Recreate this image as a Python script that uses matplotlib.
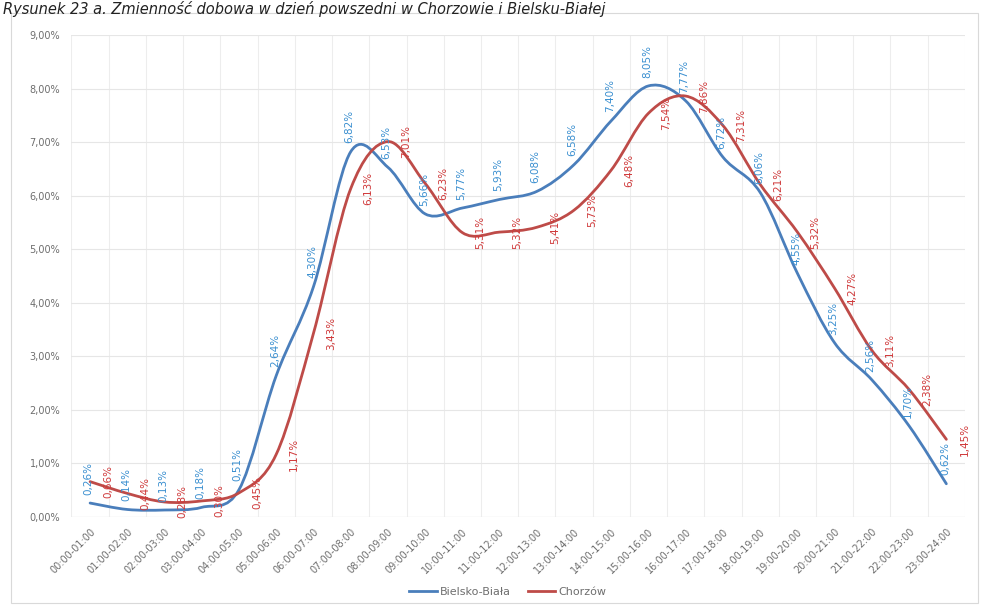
import matplotlib
matplotlib.use('Agg')
import matplotlib.pyplot as plt
from matplotlib.path import Path
from matplotlib.patches import PathPatch, Rectangle
from matplotlib.lines import Line2D

# Przedziały godzinowe i udział ruchu (%)
godziny = ['00:00-01:00', '01:00-02:00', '02:00-03:00', '03:00-04:00', '04:00-05:00',
           '05:00-06:00', '06:00-07:00', '07:00-08:00', '08:00-09:00', '09:00-10:00',
           '10:00-11:00', '11:00-12:00', '12:00-13:00', '13:00-14:00', '14:00-15:00',
           '15:00-16:00', '16:00-17:00', '17:00-18:00', '18:00-19:00', '19:00-20:00',
           '20:00-21:00', '21:00-22:00', '22:00-23:00', '23:00-24:00']
bielsko = [0.26, 0.14, 0.13, 0.18, 0.51, 2.64, 4.30, 6.82, 6.53, 5.66, 5.77, 5.93,
           6.08, 6.58, 7.40, 8.05, 7.77, 6.72, 6.06, 4.55, 3.25, 2.56, 1.70, 0.62]
chorzow = [0.66, 0.44, 0.28, 0.30, 0.45, 1.17, 3.43, 6.13, 7.01, 6.23, 5.31, 5.32,
           5.41, 5.73, 6.48, 7.54, 7.86, 7.31, 6.21, 5.32, 4.27, 3.11, 2.38, 1.45]
osie_y = [0, 1, 2, 3, 4, 5, 6, 7, 8, 9]

kolor_b = '#4A7EBB'
kolor_c = '#BE4B48'
kolor_b_etyk = '#3A8FD0'
kolor_c_etyk = '#D0393A'
szary = '#6E6E6E'


def procent(v):
    return f'{v:.2f}'.replace('.', ',') + '%'


# Wygładzona linia jak w Excelu (krzywe Beziera przez punkty)
def gladka_sciezka(xs, ys):
    pts = list(zip(xs, ys))
    n = len(pts)
    verts = [pts[0]]
    codes = [Path.MOVETO]
    for i in range(n - 1):
        p0 = pts[max(i - 1, 0)]
        p1 = pts[i]
        p2 = pts[i + 1]
        p3 = pts[min(i + 2, n - 1)]
        c1 = (p1[0] + (p2[0] - p0[0]) / 6, p1[1] + (p2[1] - p0[1]) / 6)
        c2 = (p2[0] - (p3[0] - p1[0]) / 6, p2[1] - (p3[1] - p1[1]) / 6)
        verts += [c1, c2, p2]
        codes += [Path.CURVE4] * 3
    return Path(verts, codes)


fig = plt.figure(figsize=(9.9, 6.05), dpi=100)
ax = fig.add_axes([0.0722, 0.1455, 0.9025, 0.7966])

x = list(range(len(godziny)))

for dane, kolor in [(bielsko, kolor_b), (chorzow, kolor_c)]:
    patch = PathPatch(gladka_sciezka(x, dane), facecolor='none', edgecolor=kolor,
                      lw=2.0, capstyle='round', joinstyle='round', zorder=3)
    ax.add_patch(patch)

# Etykiety danych
for xi, v in zip(x, bielsko):
    ax.annotate(procent(v), (xi, v), xytext=(-1, 6), textcoords='offset points',
                rotation=90, ha='center', va='bottom', fontsize=7.5,
                color=kolor_b_etyk, zorder=4)
for xi, v in zip(x, chorzow):
    ax.annotate(procent(v), (xi, v), xytext=(13, 0), textcoords='offset points',
                rotation=90, ha='center', va='center', fontsize=7.5,
                color=kolor_c_etyk, zorder=4)

ax.set_xlim(-0.5, len(godziny) - 0.5)
ax.set_ylim(0, 9)
ax.set_yticks(osie_y)
ax.set_yticklabels([f'{v},00%' for v in osie_y])
ax.set_xticks(x)
ax.set_xticklabels(godziny, rotation=45, ha='right', rotation_mode='anchor')
ax.set_xticks([i - 0.5 for i in range(len(godziny) + 1)], minor=True)
ax.tick_params(axis='both', which='both', length=0, colors=szary, labelsize=7)
ax.tick_params(axis='y', pad=8)
ax.tick_params(axis='x', pad=7)
ax.grid(axis='y', which='major', color='#E6E6E6', lw=0.8)
ax.grid(axis='x', which='minor', color='#EDEDED', lw=0.8)
for s in ax.spines.values():
    s.set_visible(False)
ax.axhline(0, color='#D9D9D9', lw=0.8, zorder=1)

# Ramka wykresu
fig.patches.append(Rectangle((11 / 990, 2 / 605), 967 / 990, 590 / 605,
                             transform=fig.transFigure, fill=False,
                             edgecolor='#D9D9D9', lw=0.8))

fig.text(0.003, 0.999,
         'Rysunek 23 a. Zmienność dobowa w dzień powszedni w Chorzowie i Bielsku-Białej',
         ha='left', va='top', fontsize=10.5, style='italic', color='#222222')

uchwyty = [Line2D([], [], color=kolor_b, lw=2), Line2D([], [], color=kolor_c, lw=2)]
fig.legend(uchwyty, ['Bielsko-Biała', 'Chorzów'], loc='center',
           bbox_to_anchor=(0.513, 0.022), ncol=2, frameon=False, fontsize=8,
           handlelength=2.5, handletextpad=0.3, columnspacing=1.5, labelcolor=szary)

fig.savefig('out.png', dpi=100)
